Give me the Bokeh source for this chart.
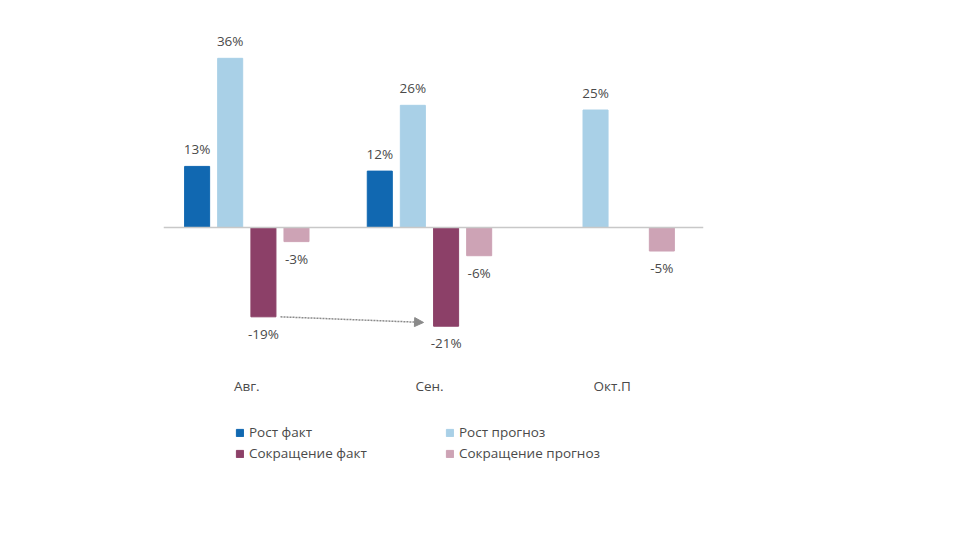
import math
from bokeh.plotting import figure
from bokeh.models import ColumnDataSource, Range1d, Span, Legend, LegendItem, Arrow, NormalHead
from bokeh.core.properties import value
from bokeh.embed import file_html
from bokeh.resources import INLINE

# ---- data ----
months = ["Авг.", "Сен.", "Окт.П"]
series_names = ["Рост факт", "Рост прогноз", "Сокращение факт", "Сокращение прогноз"]
growth_fact = [13, 12, float("nan")]
growth_forecast = [36, 26, 25]
decline_fact = [-19, -21, float("nan")]
decline_forecast = [-3, -6, -5]

colors = ["#1168b1", "#a9d0e7", "#8c4068", "#cda3b5"]
offsets = [-0.272, -0.091, 0.091, 0.272]
bar_w = 0.137
FONT = "Open Sans"
TXT = "#4a4a4a"

p = figure(width=952, height=528, output_backend="svg", toolbar_location=None,
           x_range=Range1d(-0.456, 2.5), y_range=Range1d(-64.04, 46.6),
           min_border_left=163, min_border_right=249, min_border_top=8, min_border_bottom=0)
p.axis.visible = False
p.xgrid.visible = False
p.ygrid.visible = False
p.outline_line_color = None
p.background_fill_color = "white"

p.add_layout(Span(location=0, dimension="width", line_color="#c8c8c8", line_width=1.5))

renderers = []
all_series = [growth_fact, growth_forecast, decline_fact, decline_forecast]
for vals, off, col in zip(all_series, offsets, colors):
    xs, ys, labs = [], [], []
    for i, v in enumerate(vals):
        if not math.isnan(v):
            xs.append(i + off)
            ys.append(v)
            labs.append(f"{v:.0f}%")
    src = ColumnDataSource(dict(x=xs, top=ys, lab=labs))
    r = p.vbar(x="x", top="top", bottom=0, width=bar_w, source=src,
               fill_color=col, line_color=col, line_width=1)
    renderers.append(r)
    pos = ys and ys[0] > 0
    p.text(x="x", y="top", text="lab", source=src, text_align="center",
           text_baseline="bottom" if pos else "top", y_offset=-8 if pos else 8,
           text_font=value(FONT), text_font_size="13.5px", text_color=TXT)

# category labels
cat_src = ColumnDataSource(dict(x=list(range(len(months))), y=[0] * len(months), t=months))
p.text(x="x", y="y", text="t", source=cat_src, text_align="center", text_baseline="middle",
       y_offset=158, text_font=value(FONT), text_font_size="13.5px", text_color=TXT)

# dotted arrow between decline facts
p.add_layout(Arrow(x_start=0 + offsets[2] + bar_w / 2 + 0.025, y_start=decline_fact[0],
                   x_end=1 + offsets[2] - bar_w / 2 - 0.055, y_end=decline_fact[1] + 0.8,
                   line_color="#8a8a8a", line_width=1.5, line_dash="2 1",
                   end=NormalHead(size=9, fill_color="#8a8a8a", line_color="#8a8a8a")))

def make_legend(items, loc):
    lg = Legend(items=items, location=loc, orientation="vertical",
                glyph_width=9, glyph_height=9, label_height=14, spacing=3,
                label_standoff=5, padding=0, margin=0,
                border_line_color=None, background_fill_alpha=0,
                label_text_font=FONT, label_text_font_size="13.5px", label_text_color=TXT)
    p.add_layout(lg, "center")

make_legend([LegendItem(label=series_names[0], renderers=[renderers[0]]),
             LegendItem(label=series_names[2], renderers=[renderers[2]])], (72, 66))
make_legend([LegendItem(label=series_names[1], renderers=[renderers[1]]),
             LegendItem(label=series_names[3], renderers=[renderers[3]])], (282, 66))

open("out.html", "w").write(file_html(p, INLINE))
